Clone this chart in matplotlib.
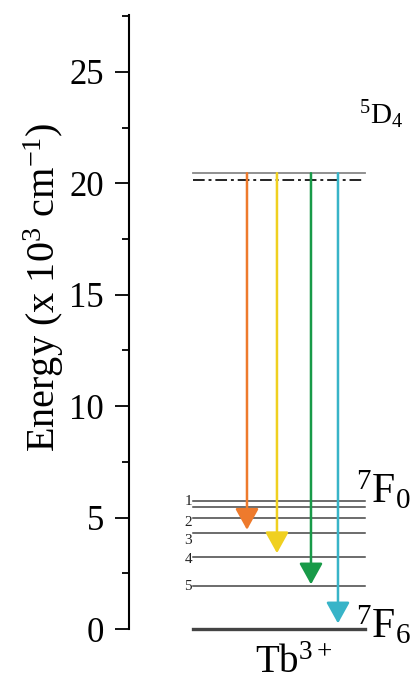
import matplotlib
matplotlib.use("Agg")
import matplotlib.pyplot as plt
from matplotlib.ticker import MultipleLocator

plt.rcParams['font.family'] = ['Liberation Serif', 'DejaVu Serif']
plt.rcParams['mathtext.fontset'] = 'custom'
plt.rcParams['mathtext.rm'] = 'Liberation Serif'
plt.rcParams['mathtext.it'] = 'Liberation Serif:italic'
plt.rcParams['mathtext.bf'] = 'Liberation Serif:bold'

# Energy levels (x10^3 cm^-1)
d4_level = 20.45
d4_dashed = 20.15
f_levels = [5.76, 5.46, 4.97, 4.30, 3.22, 1.95]
f_labels = ['1', '2', '3', '4', '5']
ground = 0.0
# transitions: end energies
arrow_ends = [4.45, 3.40, 2.00, 0.25]
arrow_colors = ['#EE7A2C', '#F0D020', '#189A48', '#38B4C8']
arrow_x = [4.37, 5.48, 6.74, 7.74]

fig = plt.figure(figsize=(4.12, 6.84), dpi=100)
ax = fig.add_axes([129/412, 55/684, 270/412, (629-15)/684])
ax.set_xlim(0, 10)
ax.set_ylim(0, 27.55)

x0, x1 = 2.37, 8.74
ax.plot([x0, x1], [d4_level, d4_level], color='#888888', lw=1.3)
ax.plot([x0, x1], [d4_dashed, d4_dashed], color='#222222', lw=1.4, ls='-.', dashes=(6, 2, 1.5, 2))
for y in f_levels:
    ax.plot([x0, x1], [y, y], color='#444444', lw=1.1)
ax.plot([x0, x1], [ground, ground], color='#444444', lw=2.4, clip_on=False)

lab_y = [5.7, 4.8, 3.95, 3.1, 1.9]
for t, y in zip(f_labels, lab_y):
    ax.text(2.33, y, t, fontsize=11, ha='right', va='center', color='#222222')

for x, ye, c in zip(arrow_x, arrow_ends, arrow_colors):
    ax.annotate('', xy=(x, ye), xytext=(x, d4_level),
                arrowprops=dict(arrowstyle='-|>,head_length=0.65,head_width=0.36',
                                color=c, lw=1.8, mutation_scale=20,
                                shrinkA=0, shrinkB=0))

ax.text(8.5, 23.1, r'$^{5}$D$_{4}$', fontsize=21, ha='left', va='center')
ax.text(8.4, 6.2, r'$^{7}$F$_{0}$', fontsize=30, ha='left', va='center')
ax.text(8.4, 0.15, r'$^{7}$F$_{6}$', fontsize=30, ha='left', va='center')
ax.text(6.1, -2.38, r'Tb$^{3+}$', fontsize=28, ha='center', va='bottom')

for s in ['top', 'right', 'bottom']:
    ax.spines[s].set_visible(False)
ax.spines['left'].set_linewidth(1.5)
ax.set_xticks([])
ax.yaxis.set_major_locator(MultipleLocator(5))
ax.yaxis.set_minor_locator(MultipleLocator(2.5))
ax.tick_params(axis='y', which='major', length=10, width=1.3, direction='out', labelsize=25, pad=8)
ax.tick_params(axis='y', which='minor', length=5, width=1.3, direction='out')
ax.set_ylabel(r'Energy (x 10$^{3}$ cm$^{-1}$)', fontsize=29)
ax.yaxis.set_label_coords((66-129)/270, (629-287)/614, transform=ax.transAxes)

fig.savefig('out.png', dpi=100)
